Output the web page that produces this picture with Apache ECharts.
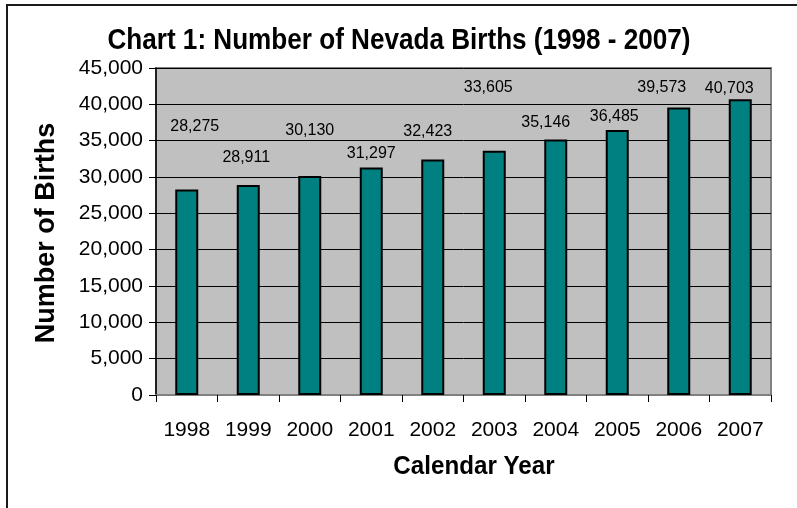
<!DOCTYPE html>
<html>
<head>
<meta charset="utf-8">
<style>
  html, body { margin: 0; padding: 0; background: #ffffff; }
  #chart { width: 797px; height: 508px; }
</style>
<script src="https://cdn.jsdelivr.net/npm/echarts@6/dist/echarts.min.js"></script>
</head>
<body>
<div id="chart"></div>
<script>
// Nevada births by calendar year
const years = ['1998', '1999', '2000', '2001', '2002', '2003', '2004', '2005', '2006', '2007'];
const births = [28275, 28911, 30130, 31297, 32423, 33605, 35146, 36485, 39573, 40703];

// value axis range
const yMin = 0;
const yMax = 45000;
const yStep = 5000;

// per-bar nudges for the value labels (dx, dy in px)
const labelNudges = [[8, -50], [-2, -14], [0, -32], [0, -1], [-5, -15], [-6, -50], [-10, -4], [-3, 0], [-17, -7], [-11, 2]];

const FONT = "'Liberation Sans', Arial, Helvetica, sans-serif";
const fmt = v => Number(v).toLocaleString('en-US');

const chart = echarts.init(document.getElementById('chart'), null, { renderer: 'canvas' });

const barData = births.map((v, i) => ({
  value: v,
  label: { offset: labelNudges[i] }
}));

chart.setOption({
  animation: false,
  backgroundColor: '#ffffff',
  grid: {
    left: 156, right: 26, top: 68, bottom: 113,
    show: true,
    backgroundColor: '#C0C0C0',
    borderColor: '#808080',
    borderWidth: 2
  },
  xAxis: {
    type: 'category',
    data: years,
    axisLine: { show: true, lineStyle: { color: '#808080', width: 2 } },
    axisTick: { show: true, inside: false, length: 7, alignWithLabel: false, lineStyle: { color: '#000000', width: 1 } },
    axisLabel: { margin: 25, fontFamily: FONT, fontSize: 21, color: '#000000' },
    splitLine: { show: false }
  },
  yAxis: {
    type: 'value',
    min: yMin,
    max: yMax,
    interval: yStep,
    axisLine: { show: true, lineStyle: { color: '#000000', width: 1.5 } },
    axisTick: { show: true, inside: false, length: 7, lineStyle: { color: '#000000', width: 1 } },
    axisLabel: { margin: 13, fontFamily: FONT, fontSize: 21, color: '#000000', formatter: fmt },
    splitLine: { show: true, lineStyle: { color: '#000000', width: 1 } }
  },
  series: [{
    type: 'bar',
    data: barData,
    barWidth: 23,
    itemStyle: { color: '#008080', borderColor: '#000000', borderWidth: 2 },
    label: {
      show: true,
      position: 'top',
      distance: 5,
      fontFamily: FONT,
      fontSize: 16,
      color: '#000000',
      formatter: p => fmt(p.value)
    }
  }],
  graphic: [
    {
      type: 'rect',
      silent: true,
      shape: { x: 7, y: 5, width: 820, height: 540 },
      style: { fill: null, stroke: '#1a1a1a', lineWidth: 2 }
    },
    {
      // chart title, set slightly narrow
      type: 'text',
      x: 399,
      y: 41,
      scaleX: 0.9,
      style: {
        text: 'Chart 1: Number of Nevada Births (1998 - 2007)',
        fontFamily: FONT,
        fontSize: 29,
        fontWeight: 'bold',
        fill: '#000000',
        align: 'center',
        verticalAlign: 'middle'
      }
    },
    {
      type: 'text',
      x: 47,
      y: 233,
      rotation: Math.PI / 2,
      style: {
        text: 'Number of Births',
        fontFamily: FONT,
        fontSize: 27,
        fontWeight: 'bold',
        fill: '#000000',
        align: 'center',
        verticalAlign: 'middle'
      }
    },
    {
      type: 'text',
      x: 474,
      y: 467,
      scaleX: 0.93,
      style: {
        text: 'Calendar Year',
        fontFamily: FONT,
        fontSize: 26,
        fontWeight: 'bold',
        fill: '#000000',
        align: 'center',
        verticalAlign: 'middle'
      }
    }
  ]
});
</script>
</body>
</html>
